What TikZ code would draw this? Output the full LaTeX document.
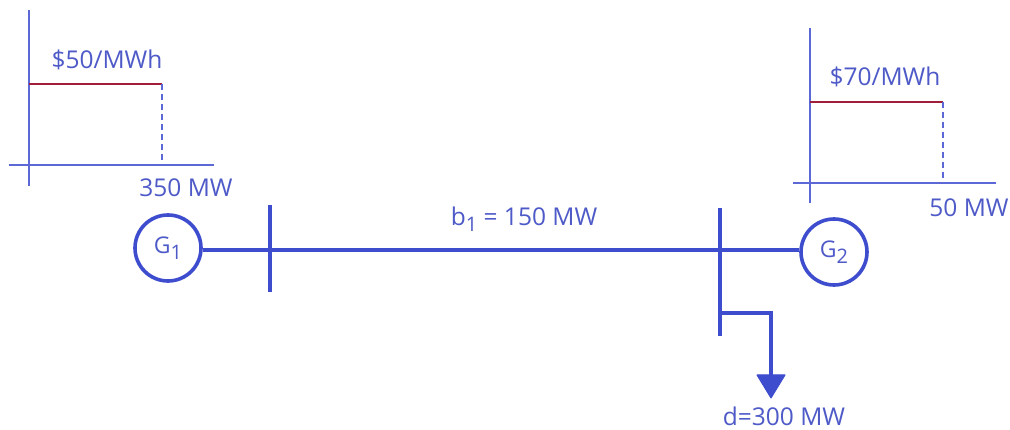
\documentclass[tikz,border=0pt]{standalone}
\usepackage{fontspec}
\setmainfont{Open Sans}
\definecolor{busblue}{RGB}{62,76,206}
\definecolor{axisblue}{RGB}{92,104,214}
\definecolor{txtblue}{RGB}{78,90,200}
\definecolor{pricered}{RGB}{160,30,60}
\newcommand{\subdigit}[1]{\raisebox{-6pt}{\fontsize{20}{22}\selectfont #1}}
\tikzset{
  axisline/.style={draw=axisblue,line width=1.2pt},
  priceline/.style={draw=pricered,line width=1.4pt},
  dropline/.style={draw=axisblue,line width=1.2pt,dash pattern=on 6pt off 4pt},
  busline/.style={draw=busblue,line width=4pt},
  genbox/.style={circle,draw=busblue,line width=3.6pt,minimum size=66pt,inner sep=0pt,text=txtblue,fill=white,font=\fontsize{23}{26}\selectfont},
  lbl/.style={text=txtblue,font=\fontsize{24.5}{28}\selectfont,inner sep=0pt,anchor=base},
  arrowhd/.style={fill=busblue,draw=busblue,line width=1pt,line join=round}
}
\begin{document}
\begin{tikzpicture}[x=1pt,y=-1pt]
\useasboundingbox (0,0) rectangle (1010,430);
\fill[white] (0,0) rectangle (1010,430);
% left chart
\coordinate (la) at (29,10); \coordinate (lb) at (29,186);
\coordinate (lc) at (9,165); \coordinate (ld) at (214,165);
\coordinate (le) at (29,84); \coordinate (lf) at (162,84); \coordinate (lg) at (162,165);
\draw[axisline] (la) -- (lb);
\draw[axisline] (lc) -- (ld);
\draw[priceline] (le) -- (lf);
\draw[dropline] (lf) -- (lg);
\node[lbl] (p1) at (107,69) {\$50/MWh};
\node[lbl] (q1) at (186,197) {350 MW};
% right chart
\coordinate (ra) at (810,28); \coordinate (rb) at (810,203);
\coordinate (rc) at (793,183); \coordinate (rd) at (996,183);
\coordinate (re) at (810,102); \coordinate (rf) at (943,102); \coordinate (rg) at (943,183);
\draw[axisline] (ra) -- (rb);
\draw[axisline] (rc) -- (rd);
\draw[priceline] (re) -- (rf);
\draw[dropline] (rf) -- (rg);
\node[lbl] (p2) at (885,86) {\$70/MWh};
\node[lbl] (q2) at (969,217) {50 MW};
% network
\coordinate (b1t) at (270,205); \coordinate (b1b) at (270,292);
\coordinate (b2t) at (720,208); \coordinate (b2b) at (720,336);
\coordinate (b1m) at (270,250); \coordinate (b2m) at (720,250);
\coordinate (ls) at (720,313); \coordinate (lk) at (771,313); \coordinate (lt) at (771,375);
\node[genbox] (g1) at (168,248) {G\subdigit{1}};
\node[genbox] (g2) at (834,252) {G\subdigit{2}};
\draw[busline] (g1.east |- b1m) -- (b1m);
\draw[busline] (b1m) -- (b2m);
\draw[busline] (b2m) -- (g2.west |- b2m);
\draw[busline] (b1t) -- (b1b);
\draw[busline] (b2t) -- (b2b);
\draw[busline,line join=miter] (ls) -- (lk) -- (lt);
\filldraw[arrowhd] (757,375) -- (785,375) -- (771,398) -- cycle;
\node[lbl] (bl) at (524,226) {b\subdigit{1} = 150 MW};
\node[lbl] (dl) at (784,425) {d=300 MW};
\end{tikzpicture}
\end{document}
